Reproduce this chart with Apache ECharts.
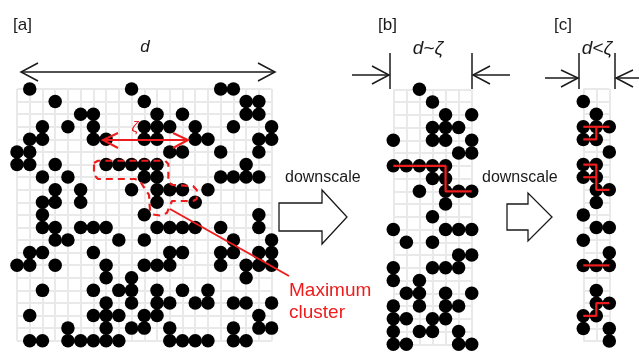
<!DOCTYPE html>
<html>
<head>
<meta charset="utf-8">
<script src="https://cdn.jsdelivr.net/npm/echarts@6/dist/echarts.min.js"></script>
<style>
  html, body { margin: 0; padding: 0; background: #fff; }
  #chart { width: 639px; height: 352px; }
</style>
</head>
<body>
<div id="chart"></div>
<script>
// Occupied sites of each lattice, one array of column indices per row (row 0 at top).
const latticeA = [
  [1, 9, 16, 17],
  [3, 10, 18, 19],
  [5, 6, 11, 13, 18, 19],
  [2, 4, 6, 10, 11, 12, 14, 17, 20],
  [1, 2, 6, 7, 10, 11, 14, 15, 19, 20],
  [0, 1, 12, 13, 16, 19],
  [0, 1, 3, 7, 8, 9, 10, 11, 18],
  [2, 4, 10, 11, 16, 17, 18, 19],
  [3, 5, 9, 11, 12, 13, 15],
  [2, 3, 5, 11, 14],
  [2, 10, 19],
  [2, 3, 5, 6, 7, 11, 12, 13, 14, 16, 19],
  [3, 4, 8, 10, 17, 20],
  [1, 2, 6, 12, 13, 16, 17, 19, 20],
  [0, 1, 3, 7, 10, 11, 12, 16, 18, 19, 20],
  [7, 9, 18],
  [2, 6, 8, 9, 11, 13, 15],
  [7, 9, 11, 12, 14, 15, 17, 18, 20],
  [1, 6, 7, 8, 10, 11, 19],
  [4, 7, 9, 10, 12, 17, 19, 20],
  [1, 2, 4, 5, 6, 7, 8, 12, 13, 14, 15, 17, 18]
];
const latticeB = [
  [2], [3], [4, 6], [3, 4, 5], [0, 3, 4, 6], [5, 6], [0, 1, 2, 3, 4], [3, 4],
  [2, 4, 5, 6], [4], [3], [0, 4, 5, 6], [1, 3], [5, 6], [0, 3, 4, 5], [0, 2],
  [1, 2, 4, 6], [0, 2, 4, 5], [0, 1, 3, 4], [0, 2, 3, 5], [0, 1, 5, 6]
];
const latticeC = [
  [], [0], [1], [0, 1, 2], [0, 1], [2], [0, 1], [0, 1], [1, 2], [1], [0],
  [1, 2], [0], [2], [0, 1, 2], [], [1], [1, 2], [0, 1], [0, 2], [2]
];
// Spanning paths through the largest cluster after each downscale step.
const spanPathsB = [
  [[0, 6], [4, 6], [4, 8], [6, 8]]
];
const spanPathsC = [
  [[0, 3], [2, 3]], [[1, 3], [1, 4], [0, 4]],
  [[0, 6], [1, 6], [1, 8], [2, 8]], [[0, 7], [1, 7]],
  [[0, 14], [2, 14]],
  [[2, 17], [1, 17], [1, 18], [0, 18]]
];
// Dashed outline around the maximum cluster in the full lattice.
const clusterOutline = [
  [6.05, 5.88], [6.36, 5.70], [11.63, 5.70], [11.89, 5.96], [11.89, 7.39],
  [12.18, 7.63], [13.83, 7.71], [14.12, 8.03], [14.12, 8.74], [13.83, 8.90],
  [12.18, 8.90], [12.02, 9.22], [11.78, 9.85], [11.23, 10.05], [10.68, 9.97],
  [10.45, 9.69], [10.37, 8.42], [10.05, 7.95], [9.66, 7.31], [9.27, 7.15],
  [6.36, 7.15], [6.05, 6.83], [6.05, 5.88]
];

const RED = '#ee1c1c';
const INK = '#1a1a1a';
const FONT = 'Liberation Sans, Arial, sans-serif';

function toPoints(lattice) {
  const pts = [];
  lattice.forEach((cols, r) => cols.forEach(c => pts.push([c, r])));
  return pts;
}

function axisPair(maxX, maxY, idx) {
  const hidden = { show: false };
  const split = { show: true, lineStyle: { color: '#e9e9e9', width: 2 } };
  return {
    x: { type: 'value', gridIndex: idx, min: 0, max: maxX, interval: 1,
         axisLine: hidden, axisTick: hidden, axisLabel: hidden, splitLine: split },
    y: { type: 'value', gridIndex: idx, min: 0, max: maxY, interval: 1, inverse: true,
         axisLine: hidden, axisTick: hidden, axisLabel: hidden, splitLine: split }
  };
}

const axA = axisPair(20, 20, 0), axB = axisPair(6, 20, 1), axC = axisPair(2, 20, 2);

function dotSeries(lattice, idx) {
  return {
    type: 'scatter', xAxisIndex: idx, yAxisIndex: idx, data: toPoints(lattice),
    symbol: 'circle', symbolSize: 13.5, itemStyle: { color: '#000', opacity: 1 },
    silent: true, z: 3
  };
}
function pathSeries(path, idx, dashed) {
  return {
    type: 'line', xAxisIndex: idx, yAxisIndex: idx, data: path,
    symbol: 'none', silent: true, z: 4,
    lineStyle: { color: RED, width: 2.2, type: dashed ? [7, 5] : 'solid' }
  };
}

const series = [dotSeries(latticeA, 0), dotSeries(latticeB, 1), dotSeries(latticeC, 2)];
spanPathsB.forEach(p => series.push(pathSeries(p, 1, false)));
spanPathsC.forEach(p => series.push(pathSeries(p, 2, false)));
series.push(pathSeries(clusterOutline, 0, true));

function seg(points, color, width) {
  return { type: 'polyline', shape: { points: points },
           style: { stroke: color || INK, lineWidth: width || 1.5, fill: null }, z: 10 };
}
function label(text, x, y, opts) {
  return { type: 'text', x: x, y: y, z: 10,
           style: Object.assign({ text: text, fill: INK, font: '17px ' + FONT,
                                  textVerticalAlign: 'middle' }, opts || {}) };
}
function blockArrow(x0, xNeck, xTip, yMid, shaftHalf, headHalf) {
  return { type: 'polygon', z: 10,
           shape: { points: [[x0, yMid - shaftHalf], [xNeck, yMid - shaftHalf], [xNeck, yMid - headHalf],
                             [xTip, yMid], [xNeck, yMid + headHalf], [xNeck, yMid + shaftHalf],
                             [x0, yMid + shaftHalf]] },
           style: { fill: '#fff', stroke: INK, lineWidth: 1.3 } };
}

const graphic = [
  label('[a]', 13, 25),
  label('[b]', 378, 25),
  label('[c]', 554, 25),
  label('d', 145, 47, { font: 'italic 17px ' + FONT, textAlign: 'center' }),
  label('d~ζ', 428, 49, { font: 'italic 19px ' + FONT, textAlign: 'center' }),
  label('d<ζ', 597, 49, { font: 'italic 19px ' + FONT, textAlign: 'center' }),
  // width of the full lattice
  seg([[21, 72], [275, 72]]),
  seg([[38, 63], [21, 72], [38, 81]]),
  seg([[258, 63], [275, 72], [258, 81]]),
  // width after the first downscale
  seg([[390, 53], [390, 89]]),
  seg([[472, 53], [472, 89]]),
  seg([[352, 75], [389, 75]]),
  seg([[372, 66], [389, 75], [372, 84]]),
  seg([[510, 75], [473, 75]]),
  seg([[490, 66], [473, 75], [490, 84]]),
  // width after the second downscale
  seg([[579, 53], [579, 89]]),
  seg([[615, 53], [615, 89]]),
  seg([[545, 78], [578, 78]]),
  seg([[561, 70], [578, 78], [561, 87]]),
  seg([[640, 78], [616, 78]]),
  seg([[633, 70], [616, 78], [633, 87]]),
  // downscale steps
  label('downscale', 285, 178, { font: '16px ' + FONT }),
  blockArrow(279, 322, 347, 217, 14, 27),
  label('downscale', 482, 178, { font: '16px ' + FONT }),
  blockArrow(507, 528, 552, 217, 13, 24),
  // correlation length inside the full lattice
  seg([[103, 140], [188, 140]], RED, 2),
  seg([[118, 133], [103, 140], [118, 148]], RED, 2),
  seg([[173, 133], [188, 140], [173, 148]], RED, 2),
  label('ζ', 135, 128, { font: 'italic 15px ' + FONT, fill: RED, textAlign: 'center' }),
  // leader to the cluster caption
  seg([[170, 209], [289, 276]], RED, 2),
  label('Maximum', 289, 291, { font: '19px ' + FONT, fill: RED }),
  label('cluster', 289, 313, { font: '19px ' + FONT, fill: RED })
];

const option = {
  animation: false,
  backgroundColor: '#fff',
  grid: [
    { left: 17, top: 89, width: 254.6, height: 251.7 },
    { left: 393.3, top: 89.3, width: 78.4, height: 255 },
    { left: 583.3, top: 89, width: 26, height: 252 }
  ],
  xAxis: [axA.x, axB.x, axC.x],
  yAxis: [axA.y, axB.y, axC.y],
  series: series,
  graphic: graphic
};

const chart = echarts.init(document.getElementById('chart'), null, { renderer: 'canvas' });
chart.setOption(option);
</script>
</body>
</html>
